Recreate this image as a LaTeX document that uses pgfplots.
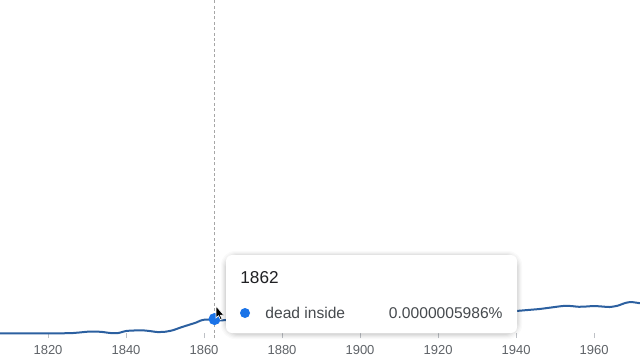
\documentclass[border=0pt]{standalone}
\usepackage{pgfplots}
\pgfplotsset{compat=1.18}
\usepackage{fontspec}
\setmainfont{Liberation Sans}
\definecolor{linecol}{RGB}{44,96,160}
\definecolor{dotcol}{RGB}{26,115,232}
\definecolor{tickcol}{RGB}{95,99,104}
\definecolor{tickline}{RGB}{190,193,198}
\definecolor{txtdark}{RGB}{32,33,36}
\definecolor{txtgray}{RGB}{70,74,78}
\begin{document}
\begin{tikzpicture}
\useasboundingbox (0,0) rectangle (320pt,180pt);
\fill[white] (0,0) rectangle (320pt,180pt);
\begin{axis}[
  at={(0pt,11pt)}, anchor=south west,
  scale only axis, width=320pt, height=169pt,
  xmin=1807.69, xmax=1971.79, ymin=-1.6, ymax=133.6,
  axis x line*=bottom, axis y line=none,
  x axis line style={draw=none},
  xtick={1820,1840,1860,1880,1900,1920,1940,1960},
  tick align=inside, major tick length=2.5pt,
  every tick/.style={tickline, line width=0.5pt},
  xticklabel style={font=\fontsize{6.5pt}{7pt}\selectfont, text=tickcol, anchor=center, yshift=-6pt},
  /pgf/number format/.cd, 1000 sep={}, assume math mode=true,
]
\addplot[gray!70, line width=0.5pt, dash pattern=on 1.5pt off 1.2pt] coordinates {(1862.7,-1.6) (1862.7,133.6)};
\addplot[linecol, line width=1pt, smooth, tension=0.4] coordinates {
(1807.7,0.3) (1812,0.3) (1816,0.3) (1820,0.3) (1824,0.3) (1826,0.35) (1828,0.6) (1830,0.9)
(1832,1.0) (1834,0.8) (1836,0.4) (1838,0.4) (1840,1.2) (1842,1.4) (1844,1.5) (1846,1.2)
(1848,0.8) (1850,0.9) (1852,1.5) (1854,2.6) (1856,3.6) (1858,4.6) (1859,5.3) (1860,5.7)
(1861.5,5.8) (1862.7,5.986) (1864,5.5) (1866,5.6) (1870,6.4) (1880,7.0) (1890,7.5) (1900,8.0)
(1910,8.2) (1920,8.5) (1930,8.9) (1938,9.0) (1940,9.2) (1943,9.6) (1946,10.0) (1949,10.6)
(1952,11.2) (1954,11.2) (1956,10.9) (1958,11.0) (1960,11.2) (1962,11.0) (1964,10.8)
(1966,11.3) (1968,12.4) (1969.5,12.8) (1971.8,12.3)
};
\addplot[only marks, mark=*, mark size=2.8pt, mark options={fill=dotcol, draw=dotcol}] coordinates {(1862.7,5.986)};
\end{axis}
\begin{scope}[x=0.5pt, y=-0.5pt, yshift=180pt]
  % cursor
  \filldraw[fill=black, draw=white, line width=0.3pt]
    (216,306) -- (216,318) -- (218.6,315.6) -- (220.4,319.6) -- (222,318.9) -- (220.3,315.1) -- (223.8,315.1) -- cycle;
  % tooltip shadow
  \foreach \s/\o in {5/0.02,4/0.025,3/0.03,2/0.035,1/0.045}{
    \fill[black, opacity=\o, rounded corners=7pt] (226-\s,255-\s+1) rectangle (517+\s,333+\s+1);
  }
  \fill[white, rounded corners=3pt] (226,255) rectangle (517,333);
  \node[anchor=base west, inner sep=0pt, text=txtdark, font=\fontsize{8.6pt}{10pt}\selectfont] at (240,283) {1862};
  \fill[dotcol] (245,313) circle (2.5pt);
  \node[anchor=base west, inner sep=0pt, text=txtgray, font=\fontsize{7.8pt}{9pt}\selectfont] at (265,318) {dead inside};
  \node[anchor=base east, inner sep=0pt, text=txtgray, font=\fontsize{7.8pt}{9pt}\selectfont] at (503,318) {0.0000005986\%};
\end{scope}
\end{tikzpicture}
\end{document}
